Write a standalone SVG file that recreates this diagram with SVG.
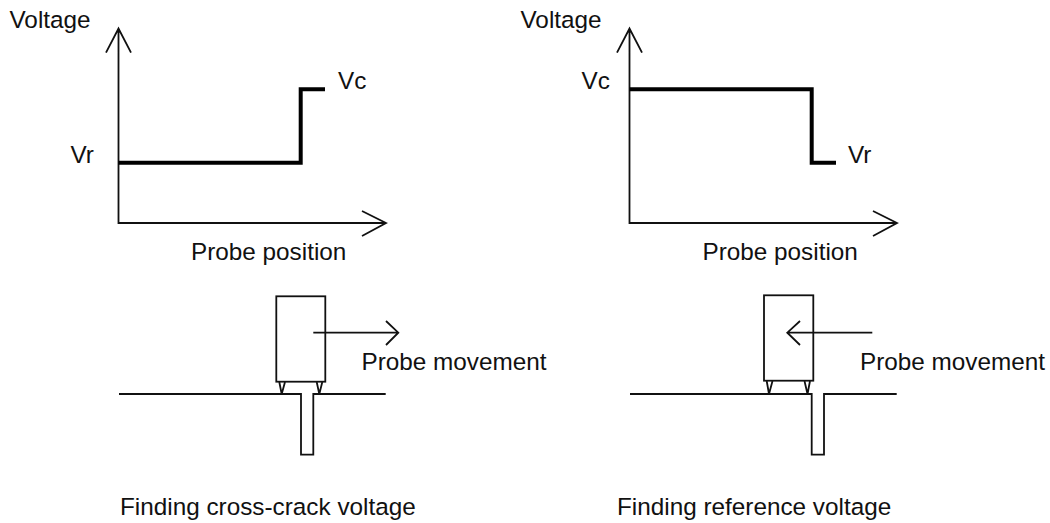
<svg xmlns="http://www.w3.org/2000/svg" width="1050" height="523" viewBox="0 0 1050 523">
<style>
text{font-family:"Liberation Sans",Arial,sans-serif;font-size:24.3px;fill:#111}
.l{fill:none;stroke:#111;stroke-width:1.8;stroke-linejoin:miter}
.t{fill:none;stroke:#000;stroke-width:4}
</style>
<rect width="1050" height="523" fill="#fff"/>
<g id="left-chart">
<path class="l" d="M118.5 28.5V223H386M106 52.7L118.5 28.5L131 52.7M362 211L386 223L362 236"/>
<path class="t" d="M118.5 162.7H300.7V89.3H325"/>
<text x="9.5" y="28">Voltage</text><text x="70.5" y="163">Vr</text><text x="338" y="89">Vc</text><text x="191" y="260">Probe position</text>
</g>
<g id="right-chart">
<path class="l" d="M629.5 28.5V223H897M617 52.7L629.5 28.5L642 52.7M873 211L897 223L873 236"/>
<path class="t" d="M629.5 89.3H811.7V162.7H836"/>
<text x="520.5" y="28">Voltage</text><text x="581.5" y="89">Vc</text><text x="848" y="163">Vr</text><text x="702.5" y="260">Probe position</text>
</g>
<g id="left-probe">
<rect class="l" x="276.3" y="296.3" width="49" height="85.4"/>
<path class="l" d="M279.3 382L281.7 394L285 382M316.7 382L319.3 394L322.3 382"/>
<path class="l" d="M119 394H301V454.7H313.3V394H385.7"/>
<path class="l" d="M313.3 332.7H398.3M386 321L398.3 332.7L386 345"/>
<text x="361.5" y="370">Probe movement</text><text x="120" y="515">Finding cross-crack voltage</text>
</g>
<g id="right-probe">
<rect class="l" x="764" y="295.3" width="49.3" height="85.4"/>
<path class="l" d="M766.7 381L769 394L772.5 381M804.5 381L807.5 394L810 381"/>
<path class="l" d="M630 394H811.7V454.7H824V394H896.7"/>
<path class="l" d="M872.3 332.7H787.3M800 321L787.3 332.7L800 345"/>
<text x="860" y="370">Probe movement</text><text x="617" y="515">Finding reference voltage</text>
</g>
</svg>
